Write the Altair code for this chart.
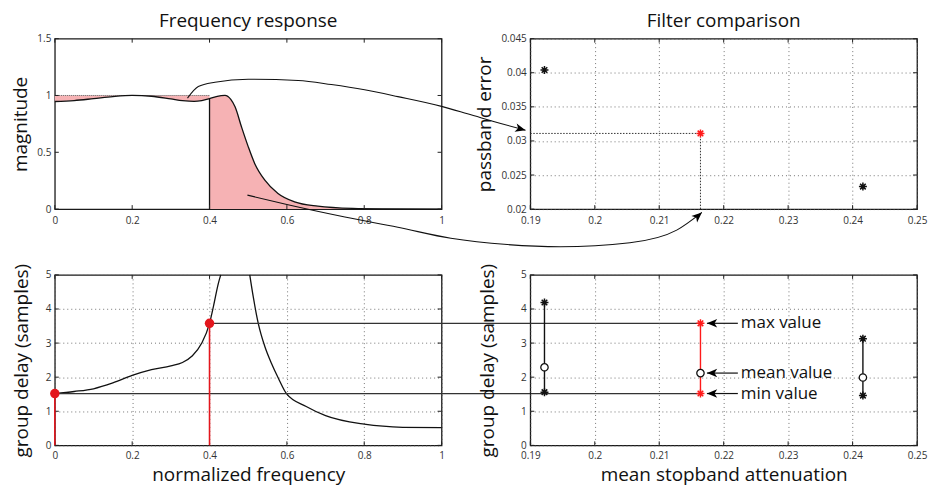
import altair as alt
import pandas as pd

# ---------------- layout ----------------
W, H = 388, 171
GAP_X, GAP_Y = 89, 66
FONT = "Open Sans"
TICK = 4

# ---------------- data ----------------
# top-left: magnitude response
mag_f = [0, 0.05, 0.1, 0.15, 0.2, 0.25, 0.3, 0.33, 0.36, 0.38, 0.4, 0.42, 0.44, 0.455,
         0.466, 0.483, 0.5, 0.517, 0.543, 0.577, 0.62, 0.68, 0.77, 0.85, 1.0]
mag_v = [0.947, 0.955, 0.972, 0.99, 1.0, 0.993, 0.97, 0.955, 0.948, 0.955, 0.972, 0.993, 1.0, 0.965,
         0.9, 0.72, 0.55, 0.40, 0.255, 0.138, 0.064, 0.026, 0.006, 0.002, 0.0]
PASS_EDGE = 0.4

# bottom-left: group delay (two branches, leaves the plot between them)
gd_lo_f = [0, 0.05, 0.1, 0.15, 0.2, 0.25, 0.3, 0.33, 0.355, 0.38, 0.4, 0.41, 0.423, 0.429]
gd_lo_v = [1.52, 1.58, 1.66, 1.83, 2.05, 2.22, 2.33, 2.43, 2.62, 3.0, 3.58, 4.07, 4.76, 5.0]
gd_hi_f = [0.504, 0.513, 0.526, 0.543, 0.56, 0.578, 0.6, 0.65, 0.7, 0.8, 0.9, 1.0]
gd_hi_v = [5.0, 4.36, 3.58, 2.9, 2.41, 1.97, 1.5, 1.14, 0.87, 0.62, 0.53, 0.52]

# right panels: three filters
att = [0.1922, 0.2164, 0.2416]
pb_err = [0.0404, 0.0311, 0.0233]
gd_max = [4.19, 3.58, 3.13]
gd_min = [1.56, 1.52, 1.46]
gd_mean = [2.29, 2.12, 1.99]
SEL = 1
stem_f = [0.0, 0.4]
stem_v = [gd_min[SEL], gd_max[SEL]]

ann_labels = ["max value", "mean value", "min value"]
ann_vals = [gd_max[SEL], gd_mean[SEL], gd_min[SEL]]
ANN_TIP, ANN_TAIL, ANN_TEXT = 0.2174, 0.2222, 0.2225

# curved arrows, in top-left panel units
arr1_x = [0.343, 0.371, 0.414, 0.5, 0.629, 0.715, 0.801, 0.887, 1.0, 1.067, 1.153, 1.217]
arr1_y = [0.977, 1.079, 1.117, 1.143, 1.132, 1.096, 1.050, 0.99, 0.904, 0.839, 0.753, 0.694]
arr1_angle = 15
arr2_x = [0.498, 0.60, 0.75, 0.887, 1.024, 1.17, 1.307, 1.487, 1.608, 1.673]
arr2_y = [0.123, 0.04, -0.07, -0.16, -0.257, -0.312, -0.331, -0.296, -0.185, -0.029]
arr2_angle = 318

TL_XD, TL_YD = [0, 1], [0, 1.5]
TR_XD, TR_YD = [0.19, 0.25], [0.02, 0.045]
BL_YD = [0, 5]

x_ticks_l = [0, 0.2, 0.4, 0.6, 0.8, 1]
y_ticks_tl = [0, 0.5, 1, 1.5]
x_ticks_r = [0.19, 0.2, 0.21, 0.22, 0.23, 0.24, 0.25]
y_ticks_tr = [0.02, 0.025, 0.03, 0.035, 0.04, 0.045]
y_ticks_b = [0, 1, 2, 3, 4, 5]


def br_to_bl(rx):
    """x position of the bottom-right panel, expressed in bottom-left units"""
    return ((W + GAP_X) + (rx - TR_XD[0]) / (TR_XD[1] - TR_XD[0]) * W) / W


ASTER = "M-1,0L1,0M0,-1L0,1M-0.7,-0.7L0.7,0.7M-0.7,0.7L0.7,-0.7"
ARROW = "M0,0L-2.3,-0.95L-1.7,0L-2.3,0.95Z"
PINK = "#f6b2b4"
RED = "#ff1a1a"
DOT_RED = "#e3161d"


def axis(title, values, grid, title_pad=6, label_pad=4):
    kw = dict(values=values, grid=grid, format="~g", labelFont=FONT, labelFontSize=10,
              labelColor="#333", labelPadding=label_pad, labelFlush=False, ticks=False,
              domain=False, titleFont=FONT, titleFontSize=19, titleFontWeight="normal",
              titleColor="#111", titlePadding=title_pad)
    if title is None:
        return alt.Axis(title=None, **kw)
    return alt.Axis(title=title, **kw)


def enc(xs, ys, xa, ya):
    return dict(x=alt.X("x:Q", scale=alt.Scale(domain=xs, nice=False, zero=False), axis=xa),
                y=alt.Y("y:Q", scale=alt.Scale(domain=ys, nice=False, zero=False), axis=ya))


def inward_ticks(E, xvals, yvals):
    """MATLAB-style inward ticks on all four sides of the box."""
    dx = pd.DataFrame({"x": xvals})
    dy = pd.DataFrame({"y": yvals})
    st = dict(color="#222", strokeWidth=1)
    return [
        alt.Chart(dx).mark_rule(**st).encode(x=E["x"], y=alt.value(H), y2=alt.value(H - TICK)),
        alt.Chart(dx).mark_rule(**st).encode(x=E["x"], y=alt.value(0), y2=alt.value(TICK)),
        alt.Chart(dy).mark_rule(**st).encode(y=E["y"], x=alt.value(0), x2=alt.value(TICK)),
        alt.Chart(dy).mark_rule(**st).encode(y=E["y"], x=alt.value(W), x2=alt.value(W - TICK)),
    ]


def panel_title(text):
    return alt.TitleParams(text, font=FONT, fontSize=19, fontWeight="normal",
                           color="#111", offset=3)


# ---------------- top-left ----------------
tl_xa = axis(None, x_ticks_l, False, label_pad=6)
tl_ya = axis("magnitude", y_ticks_tl, False)
E_TL = enc(TL_XD, TL_YD, tl_xa, tl_ya)

mag = pd.DataFrame({"x": mag_f, "y": mag_v})
pas = mag[mag.x <= PASS_EDGE].assign(y2=1.0)
stop = mag[mag.x >= PASS_EDGE].assign(y2=0.0)
edge_v = mag_v[mag_f.index(PASS_EDGE)]

tl_layers = [
    alt.Chart(pas).mark_area(color=PINK, interpolate="monotone").encode(**E_TL, y2="y2:Q"),
    alt.Chart(stop).mark_area(color=PINK, interpolate="monotone").encode(**E_TL, y2="y2:Q"),
    alt.Chart(pd.DataFrame({"x": [0], "x2": [PASS_EDGE], "y": [1.0]})).mark_rule(
        color="#555", strokeWidth=1, strokeDash=[1, 1]).encode(**E_TL, x2="x2:Q"),
    alt.Chart(pd.DataFrame({"x": [PASS_EDGE], "y": [0.0], "y2": [edge_v]})).mark_rule(
        color="#111", strokeWidth=1.3).encode(**E_TL, y2="y2:Q"),
    alt.Chart(mag).mark_line(color="#111", strokeWidth=1.3, interpolate="monotone").encode(**E_TL),
    *inward_ticks(E_TL, x_ticks_l, y_ticks_tl),
    alt.Chart(pd.DataFrame({"x": arr1_x, "y": arr1_y})).mark_line(
        color="#111", strokeWidth=1.1, interpolate="monotone", clip=False).encode(**E_TL),
    alt.Chart(pd.DataFrame({"x": arr2_x, "y": arr2_y})).mark_line(
        color="#111", strokeWidth=1.1, interpolate="monotone", clip=False).encode(**E_TL),
    alt.Chart(pd.DataFrame({"x": [arr1_x[-1], arr2_x[-1]], "y": [arr1_y[-1], arr2_y[-1]],
                            "a": [arr1_angle, arr2_angle]})).mark_point(
        shape=ARROW, size=80, filled=True, color="#000", opacity=1, clip=False).encode(
        **E_TL, angle=alt.Angle("a:Q", scale=None)),
]
tl = alt.layer(*tl_layers).properties(width=W, height=H, title=panel_title("Frequency response"))

# ---------------- top-right ----------------
tr_xa = axis(None, x_ticks_r, True, label_pad=6)
tr_ya = axis("passband error", y_ticks_tr, True)
E_TR = enc(TR_XD, TR_YD, tr_xa, tr_ya)
pts = pd.DataFrame({"x": att, "y": pb_err,
                    "c": ["#111" if i != SEL else RED for i in range(len(att))]})
guides = pd.DataFrame({"x": [TR_XD[0], att[SEL]], "x2": [att[SEL], att[SEL]],
                       "y": [pb_err[SEL], TR_YD[0]], "y2": [pb_err[SEL], pb_err[SEL]]})
tr = alt.layer(
    *inward_ticks(E_TR, x_ticks_r, y_ticks_tr),
    alt.Chart(guides).mark_rule(color="#333", strokeWidth=1, strokeDash=[1.5, 1.5]).encode(
        **E_TR, x2="x2:Q", y2="y2:Q"),
    alt.Chart(pts).mark_point(shape=ASTER, size=64, filled=False, strokeWidth=1.5, opacity=1).encode(
        **E_TR, color=alt.Color("c:N", scale=None)),
).properties(width=W, height=H, title=panel_title("Filter comparison"))

# ---------------- bottom-left ----------------
bl_xa = axis("normalized frequency", x_ticks_l, True, 5, label_pad=5)
bl_ya = axis("group delay (samples)", y_ticks_b, True, 14)
E_BL = enc(TL_XD, BL_YD, bl_xa, bl_ya)
gd = pd.DataFrame({"x": gd_lo_f + gd_hi_f, "y": gd_lo_v + gd_hi_v,
                   "branch": ["a"] * len(gd_lo_f) + ["b"] * len(gd_hi_f)})
conn = pd.DataFrame({"x": stem_f, "x2": [br_to_bl(att[SEL])] * 2, "y": stem_v})
stems = pd.DataFrame({"x": stem_f, "y": [0.0, 0.0], "y2": stem_v})
dots = pd.DataFrame({"x": stem_f, "y": stem_v})
bl = alt.layer(
    *inward_ticks(E_BL, x_ticks_l, y_ticks_b),
    alt.Chart(gd).mark_line(color="#111", strokeWidth=1.3, interpolate="monotone").encode(
        **E_BL, detail="branch:N"),
    alt.Chart(conn).mark_rule(color="#333", strokeWidth=1.3, clip=False).encode(**E_BL, x2="x2:Q"),
    alt.Chart(stems).mark_rule(color=DOT_RED, strokeWidth=1.6).encode(**E_BL, y2="y2:Q"),
    alt.Chart(dots).mark_circle(color=DOT_RED, size=90, opacity=1).encode(**E_BL),
).properties(width=W, height=H)

# ---------------- bottom-right ----------------
br_xa = axis("mean stopband attenuation", x_ticks_r, True, 5, label_pad=5)
br_ya = axis("group delay (samples)", y_ticks_b, True, 23)
E_BR = enc(TR_XD, BL_YD, br_xa, br_ya)
cols = ["#111" if i != SEL else RED for i in range(len(att))]
bars = pd.DataFrame({"x": att, "y": gd_min, "y2": gd_max, "c": cols})
ends = pd.DataFrame({"x": att + att, "y": gd_max + gd_min, "c": cols + cols})
means = pd.DataFrame({"x": att, "y": gd_mean})
ann = pd.DataFrame({"x": [ANN_TIP] * 3, "x2": [ANN_TAIL] * 3, "y": ann_vals, "t": ann_labels,
                    "xt": [ANN_TEXT] * 3, "a": [180] * 3})
br = alt.layer(
    *inward_ticks(E_BR, x_ticks_r, y_ticks_b),
    alt.Chart(bars).mark_rule(strokeWidth=1.4).encode(
        **E_BR, y2="y2:Q", color=alt.Color("c:N", scale=None)),
    alt.Chart(ends).mark_point(shape=ASTER, size=64, filled=False, strokeWidth=1.5, opacity=1).encode(
        **E_BR, color=alt.Color("c:N", scale=None)),
    alt.Chart(means).mark_point(shape="circle", size=55, filled=True, fill="white", stroke="#111",
                                strokeWidth=1.3, opacity=1).encode(**E_BR),
    alt.Chart(ann).mark_rule(color="#111", strokeWidth=1.2).encode(**E_BR, x2="x2:Q"),
    alt.Chart(ann).mark_point(shape=ARROW, size=80, filled=True, color="#000", opacity=1).encode(
        **E_BR, angle=alt.Angle("a:Q", scale=None)),
    alt.Chart(ann).mark_text(align="left", baseline="middle", font=FONT, fontSize=17,
                             color="#111", dx=1).encode(
        x=alt.X("xt:Q", scale=alt.Scale(domain=TR_XD, nice=False, zero=False), axis=br_xa),
        y=alt.Y("y:Q", scale=alt.Scale(domain=BL_YD, nice=False, zero=False), axis=br_ya),
        text="t:N"),
).properties(width=W, height=H)

chart = alt.concat(
    tl, tr, bl, br, columns=2,
    spacing=alt.RowColnumber(row=GAP_Y, column=GAP_X), bounds="flush",
).properties(
    padding={"left": 11, "top": 10, "right": 5, "bottom": 0}, background="white"
).configure_view(stroke="#1a1a1a", strokeWidth=1.3).configure_axis(
    gridColor="#555", gridDash=[1, 3], gridWidth=0.9, gridOpacity=0.9)

chart.save("out.html", embed_options={"renderer": "svg", "actions": False})
